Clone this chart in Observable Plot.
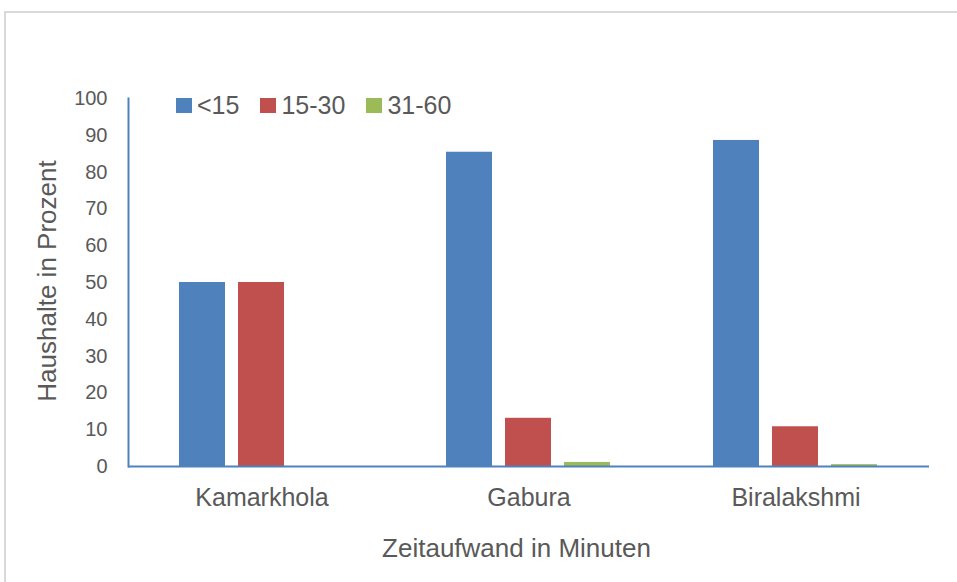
<!DOCTYPE html>
<html>
<head>
<meta charset="utf-8">
<script src="https://cdn.jsdelivr.net/npm/d3@7"></script>
<script src="https://cdn.jsdelivr.net/npm/@observablehq/plot@0.6"></script>
<style>
  html, body { margin: 0; padding: 0; background: #ffffff; }
  #wrap { position: relative; width: 957px; height: 582px; overflow: hidden; font-family: "Liberation Sans", Arial, sans-serif; color: #595959; }
  #wrap svg { position: absolute; left: 0; top: 0; }
  #border { position: absolute; left: 4px; top: 11px; width: 1000px; height: 700px; border-top: 2px solid #d9d9d9; border-left: 2px solid #d9d9d9; }
  #legend { position: absolute; left: 176px; top: 90px; display: flex; align-items: center; font-size: 25px; line-height: 30px; }
  .item { display: flex; align-items: center; margin-right: 21px; }
  .sw { width: 16px; height: 15px; margin-right: 5px; }
  #xtitle { position: absolute; left: 0; width: 1033px; top: 533px; text-align: center; font-size: 26px; line-height: 30px; }
  #ytitle { position: absolute; left: 47px; top: 281px; transform: translate(-50%, -50%) rotate(-90deg); white-space: nowrap; font-size: 26px; line-height: 30px; }
</style>
</head>
<body>
<div id="wrap">
  <div id="border"></div>
</div>
<script>
const groups = ["Kamarkhola", "Gabura", "Biralakshmi"];
const series = ["<15", "15-30", "31-60"];
const valuesLt15 = [50, 85.4, 88.6];
const values15to30 = [50, 13.1, 10.8];
const values31to60 = [0, 1.1, 0.5];
const colors = ["#4F81BD", "#C0504D", "#9BBB59"];
const yTicks = [0, 10, 20, 30, 40, 50, 60, 70, 80, 90, 100];
const xTitle = "Zeitaufwand in Minuten";
const yTitle = "Haushalte in Prozent";

const seriesValues = [valuesLt15, values15to30, values31to60];
const data = [];
groups.forEach((g, i) => {
  series.forEach((s, j) => {
    data.push({group: g, series: s, value: seriesValues[j][i]});
  });
});

const chart = Plot.plot({
  width: 957,
  height: 582,
  marginLeft: 128,
  marginRight: 28,
  marginTop: 98,
  marginBottom: 116,
  style: {fontFamily: "'Liberation Sans', Arial, sans-serif", color: "#595959", background: "transparent", overflow: "visible"},
  fx: {domain: groups, padding: 0, label: null, axis: null},
  x: {domain: series, paddingInner: 0.218, paddingOuter: 0.853, axis: null},
  y: {domain: [0, 100], label: null, axis: null},
  color: {domain: series, range: colors},
  marks: [
    Plot.barY(data, {fx: "group", x: "series", y: "value", fill: "series"}),
    Plot.ruleY([0], {stroke: "#4F81BD", strokeWidth: 2}),
    Plot.frame({anchor: "left", stroke: "#4F81BD", strokeWidth: 2, facetAnchor: "left"}),
    Plot.axisY({ticks: yTicks, tickSize: 0, tickPadding: 21, fontSize: 20, label: null, fill: "#595959"}),
    Plot.axisFx({anchor: "bottom", tickSize: 0, tickPadding: 22, fontSize: 25, label: null, fill: "#595959"})
  ]
});

const wrap = document.getElementById("wrap");
wrap.appendChild(chart);

const legend = document.createElement("div");
legend.id = "legend";
series.forEach((s, j) => {
  const it = document.createElement("div");
  it.className = "item";
  const sw = document.createElement("div");
  sw.className = "sw";
  sw.style.background = colors[j];
  const t = document.createElement("span");
  t.textContent = s;
  it.appendChild(sw);
  it.appendChild(t);
  legend.appendChild(it);
});
wrap.appendChild(legend);

const xt = document.createElement("div");
xt.id = "xtitle";
xt.textContent = xTitle;
wrap.appendChild(xt);

const yt = document.createElement("div");
yt.id = "ytitle";
yt.textContent = yTitle;
wrap.appendChild(yt);
</script>
</body>
</html>
